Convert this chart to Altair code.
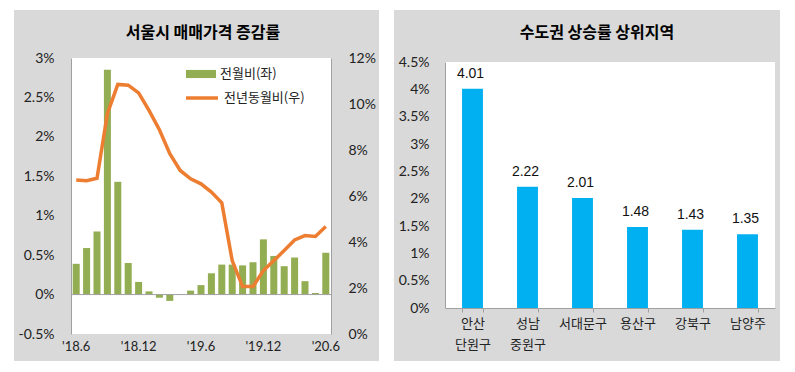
import altair as alt
import pandas as pd

# ---------------- data ----------------
months = ["'18.6", "'18.7", "'18.8", "'18.9", "'18.10", "'18.11", "'18.12",
          "'19.1", "'19.2", "'19.3", "'19.4", "'19.5", "'19.6", "'19.7", "'19.8",
          "'19.9", "'19.10", "'19.11", "'19.12", "'20.1", "'20.2", "'20.3",
          "'20.4", "'20.5", "'20.6"]
mom = [0.39, 0.59, 0.80, 2.85, 1.43, 0.40, 0.16, 0.04, -0.04, -0.08, 0.00, 0.05,
       0.12, 0.27, 0.38, 0.38, 0.37, 0.41, 0.70, 0.49, 0.36, 0.47, 0.17, 0.02, 0.53]
yoy = [6.70, 6.66, 6.77, 9.58, 10.85, 10.82, 10.48, 9.72, 8.88, 7.84, 7.11, 6.75,
       6.53, 6.17, 5.70, 3.19, 2.06, 2.06, 2.76, 3.19, 3.63, 4.09, 4.28, 4.24, 4.67]
tick_months = ["'18.6", "'18.12", "'19.6", "'19.12", "'20.6"]
left_ticks = [-0.5, 0, 0.5, 1, 1.5, 2, 2.5, 3]
right_ticks = [0, 2, 4, 6, 8, 10, 12]

regions = ["안산 단원구", "성남 중원구", "서대문구", "용산구", "강북구", "남양주"]
rates = [4.01, 2.22, 2.01, 1.48, 1.43, 1.35]
rate_ticks = [0, 0.5, 1, 1.5, 2, 2.5, 3, 3.5, 4, 4.5]

title_left = "서울시 매매가격 증감률"
title_right = "수도권 상승률 상위지역"
bar_name = "전월비(좌)"
line_name = "전년동월비(우)"

KR = "Noto Sans CJK KR"
NUM = "Lato"
GRAY_BG = "#d9d9d9"
AXIS_C = "#a0a0a0"

one = pd.DataFrame({"k": [0]})

# ---------------- left chart ----------------
W1, H1 = 260, 272
TOP1 = -4  # plot area of the left panel starts a little above the shared origin
df1 = pd.DataFrame({"month": months, "mom": mom, "yoy": yoy})

bg1 = alt.Chart(one).mark_rect(color=GRAY_BG, clip=False).encode(
    x=alt.value(-57), x2=alt.value(W1 + 48), y=alt.value(-52), y2=alt.value(H1 + 27))
white1 = alt.Chart(one).mark_rect(color="white", clip=False).encode(
    x=alt.value(0), x2=alt.value(W1), y=alt.value(TOP1), y2=alt.value(H1))
t1 = alt.Chart(one).mark_text(text=title_left, font=KR, fontSize=16, fontWeight="bold",
                              align="center", baseline="middle", clip=False).encode(
    x=alt.value(132), y=alt.value(-29))

xenc = alt.X("month:N", sort=months, title=None,
             scale=alt.Scale(paddingInner=0.33, paddingOuter=0.165),
             axis=alt.Axis(values=tick_months, labelAngle=0, domain=False, ticks=False,
                           labelFont=NUM, labelFontSize=13, labelColor="#222",
                           labelPadding=6, zindex=1))

left_axis = alt.Axis(values=left_ticks, labelExpr="datum.value + '%'", grid=False,
                     ticks=False, domainColor=AXIS_C, labelFont=NUM, labelFontSize=14,
                     labelColor="#222", labelPadding=17, labelOverlap=False,
                     labelBound=False, zindex=1, title=None)
left_scale = alt.Scale(domain=[-0.5, 3], nice=False, zero=False, range=[H1, TOP1])

bars = alt.Chart(df1).mark_bar(size=7).encode(
    x=xenc,
    y=alt.Y("mom:Q", title=None, scale=left_scale, axis=left_axis),
    color=alt.Color("s1:N", scale=alt.Scale(domain=[bar_name], range=["#92ad52"]),
                    legend=alt.Legend(orient="none", legendX=115, legendY=-3, title=None,
                                      symbolType="M-1,-0.27H1V0.27H-1Z", symbolSize=900,
                                      symbolStrokeWidth=0, labelFont=KR, labelFontSize=13,
                                      labelColor="#222", labelOffset=4)),
).transform_calculate(s1="'" + bar_name + "'")

zero_rule = alt.Chart(df1).mark_rule(color=AXIS_C, strokeWidth=1).encode(
    y=alt.Y("z:Q", title=None, scale=left_scale, axis=left_axis)
).transform_calculate(z="0").transform_filter("datum.month == \"'18.6\"")

line = alt.Chart(df1).mark_line(strokeWidth=3.5).encode(
    x=alt.X("month:N", sort=months),
    y=alt.Y("yoy:Q", title=None,
            scale=alt.Scale(domain=[0, 12], nice=False, range=[H1, TOP1]),
            axis=alt.Axis(orient="right", values=right_ticks, labelExpr="datum.value + '%'",
                          grid=False, ticks=False, domainColor=AXIS_C, labelFont=NUM,
                          labelFontSize=14, labelColor="#222", labelPadding=17,
                          labelOverlap=False, zindex=1)),
    stroke=alt.Stroke("s2:N", scale=alt.Scale(domain=[line_name], range=["#ed7d31"]),
                      legend=alt.Legend(orient="none", legendX=113, legendY=18, title=None,
                                        symbolType="stroke", symbolSize=1024,
                                        symbolStrokeWidth=3.5, labelFont=KR, labelFontSize=13,
                                        labelColor="#222", labelOffset=4)),
).transform_calculate(s2="'" + line_name + "'")

left = alt.layer(bg1, white1, t1, alt.layer(bars, zero_rule), line).resolve_scale(
    y="independent").properties(width=W1, height=H1)

# ---------------- right chart ----------------
W2, H2 = 330, 246
df2 = pd.DataFrame({"region": regions, "rate": rates})

bg2 = alt.Chart(one).mark_rect(color=GRAY_BG, clip=False).encode(
    x=alt.value(-51), x2=alt.value(W2 + 5), y=alt.value(-52), y2=alt.value(H2 + 53))
white2 = alt.Chart(one).mark_rect(color="white").encode(
    x=alt.value(0), x2=alt.value(W2), y=alt.value(0), y2=alt.value(H2))
t2 = alt.Chart(one).mark_text(text=title_right, font=KR, fontSize=16, fontWeight="bold",
                              align="center", baseline="middle", clip=False).encode(
    x=alt.value(152), y=alt.value(-29))

base2 = alt.Chart(df2).encode(
    x=alt.X("region:N", sort=regions, title=None,
            scale=alt.Scale(paddingInner=0.62, paddingOuter=0.31),
            axis=alt.Axis(labelExpr="split(datum.label, ' ')", labelAngle=0, labelFont=KR,
                          labelFontSize=13, labelColor="#222", labelLineHeight=21,
                          labelPadding=5, domainColor=AXIS_C, ticks=True, tickBand="extent",
                          tickColor=AXIS_C, tickSize=4, zindex=1)),
    y=alt.Y("rate:Q", title=None, scale=alt.Scale(domain=[0, 4.5], nice=False),
            axis=alt.Axis(values=rate_ticks, labelExpr="datum.value + '%'", grid=False,
                          ticks=False, domainColor=AXIS_C, labelFont=NUM, labelFontSize=14,
                          labelColor="#222", labelPadding=16, labelOverlap=False, zindex=1)),
)
bars2 = base2.mark_bar(color="#00b0f0")
labels2 = base2.mark_text(baseline="alphabetic", dy=-11, dx=-2, font="Liberation Sans",
                          fontSize=14, color="#111").encode(
    text=alt.Text("rate:Q", format=".2f"))

right = alt.layer(bg2, white2, t2, bars2, labels2).properties(width=W2, height=H2)

chart = alt.hconcat(left, right, spacing=13).properties(
    padding={"left": 5, "top": 1, "right": 0, "bottom": 0}
).configure_view(stroke=None).configure(background="white")

chart.save("out.html", embed_options={"renderer": "svg", "actions": False})
